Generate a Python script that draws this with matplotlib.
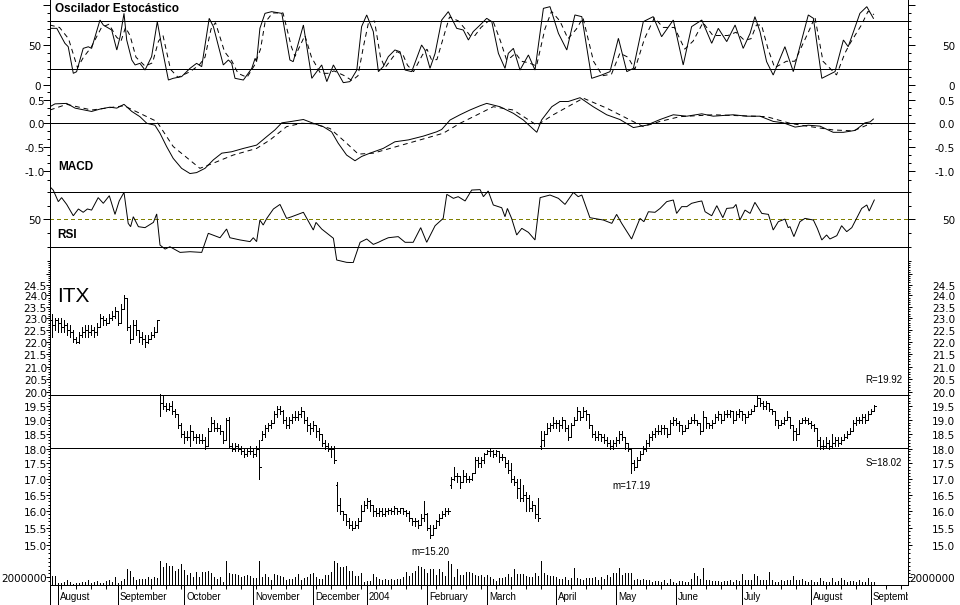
import numpy as np
import matplotlib
matplotlib.use('Agg')
import matplotlib.pyplot as plt
from matplotlib.lines import Line2D
from matplotlib.ticker import FixedLocator, NullFormatter
from matplotlib.transforms import blended_transform_factory, offset_copy, Bbox, TransformedBbox

plt.rcParams['lines.antialiased'] = False
plt.rcParams['patch.antialiased'] = False
plt.rcParams['font.family'] = 'DejaVu Sans'

# ---------------- data (ITX, daily, Jul 2003 - Sep 2004) ----------------
month_names = ['August', 'September', 'October', 'November', 'December', '2004', 'February',
               'March', 'April', 'May', 'June', 'July', 'August', 'September']
# trading days per month (first entry = last days of July 2003)
month_days = [2, 20, 22, 23, 20, 18, 20, 20, 23, 20, 20, 22, 23, 20, 2]

opens = [
    22.9, 22.7, 22.9, 22.8, 22.6, 22.7, 22.5, 22.4, 22.1, 22.0,
    22.3, 22.4, 22.5, 22.4, 22.5, 22.4, 22.6, 23.0, 22.9, 22.8,
    23.0, 23.1, 23.3, 22.8, 23.4, 23.9, 22.6, 22.1, 22.7, 22.5,
    22.2, 22.1, 22.0, 22.1, 22.3, 22.4, 19.9, 19.6, 19.5, 19.4,
    19.5, 19.3, 19.2, 18.8, 18.5, 18.4, 18.4, 18.6, 18.4, 18.4,
    18.3, 18.3, 18.1, 18.6, 18.9, 18.7, 18.7, 18.6, 18.3, 19.0,
    18.1, 18.0, 18.1, 18.0, 17.9, 17.8, 17.9, 17.9, 17.8, 18.0,
    18.3, 18.5, 18.7, 18.8, 18.9, 19.2, 19.4, 19.3, 19.0, 18.8,
    19.0, 19.1, 19.1, 19.2, 19.3, 19.0, 18.8, 18.7, 18.8, 18.6,
    18.5, 18.2, 18.1, 18.0, 18.0, 16.8, 16.2, 16.0, 15.9, 15.7,
    15.6, 15.5, 15.6, 15.7, 16.0, 16.2, 16.3, 16.2, 16.0, 15.95,
    16.0, 15.9, 16.0, 16.05, 16.0, 16.1, 16.0, 16.1, 16.0, 15.95,
    15.8, 15.7, 15.7, 15.6, 15.8, 15.9, 15.5, 15.3, 15.5, 15.7,
    15.8, 15.9, 16.0, 16.8, 17.0, 17.1, 17.1, 16.9, 17.1, 17.0,
    17.0, 17.2, 17.6, 17.5, 17.6, 17.8, 17.9, 17.9, 17.8, 17.9,
    17.7, 17.7, 17.5, 17.3, 17.0, 16.9, 16.7, 16.4, 16.5, 16.4,
    16.1, 16.2, 15.9, 18.1, 18.3, 18.5, 18.7, 18.8, 18.9, 18.9,
    18.8, 19.0, 18.7, 18.4, 18.8, 19.0, 19.3, 19.1, 19.3, 19.2,
    18.8, 18.5, 18.4, 18.5, 18.4, 18.3, 18.2, 18.1, 18.2, 18.3,
    18.5, 18.4, 18.2, 18.0, 17.5, 17.4, 17.6, 17.8, 18.0, 18.2,
    18.4, 18.5, 18.6, 18.6, 18.7, 18.7, 18.5, 18.9, 19.0, 18.9,
    18.8, 18.6, 18.7, 18.9, 19.0, 19.0, 18.9, 18.6, 19.1, 18.9,
    18.8, 18.9, 19.1, 19.2, 19.0, 19.2, 19.2, 19.3, 19.0, 19.2,
    19.3, 19.2, 19.1, 19.2, 19.3, 19.5, 19.8, 19.6, 19.5, 19.6,
    19.4, 19.3, 19.0, 18.8, 18.9, 19.0, 19.1, 18.8, 18.6, 18.5,
    18.9, 19.0, 19.0, 18.9, 18.8, 18.7, 18.3, 18.1, 18.1, 18.2,
    18.1, 18.2, 18.3, 18.2, 18.3, 18.4, 18.5, 18.6, 18.9, 19.0,
    19.0, 19.1, 19.0, 19.2, 19.3]

highs = [
    23.2, 23.0, 23.0, 23.0, 22.9, 22.8, 22.7, 22.5, 22.2, 22.4,
    22.6, 22.7, 22.7, 22.7, 22.6, 22.8, 23.2, 23.1, 23.0, 23.2,
    23.3, 23.5, 23.3, 23.6, 24.0, 23.9, 22.7, 22.9, 22.9, 22.5,
    22.4, 22.3, 22.3, 22.4, 22.6, 22.9, 19.95, 19.9, 19.6, 19.6,
    19.7, 19.4, 19.2, 18.9, 18.6, 18.6, 18.8, 18.6, 18.5, 18.5,
    18.5, 18.4, 18.7, 19.1, 19.0, 18.9, 18.8, 18.6, 19.05, 19.1,
    18.2, 18.2, 18.15, 18.1, 18.0, 18.0, 18.1, 18.0, 18.1, 18.3,
    18.6, 18.8, 18.9, 19.0, 19.3, 19.5, 19.5, 19.35, 19.1, 19.1,
    19.2, 19.3, 19.3, 19.45, 19.3, 19.1, 18.9, 18.95, 18.8, 18.7,
    18.5, 18.3, 18.2, 18.1, 18.1, 16.9, 16.4, 16.0, 15.9, 15.8,
    15.7, 15.7, 15.8, 16.2, 16.3, 16.4, 16.35, 16.2, 16.1, 16.1,
    16.1, 16.1, 16.1, 16.1, 16.15, 16.1, 16.1, 16.1, 16.05, 16.0,
    15.8, 15.8, 15.75, 15.9, 16.3, 15.95, 15.6, 15.6, 15.75, 15.9,
    16.0, 16.1, 16.1, 17.05, 17.4, 17.2, 17.1, 17.3, 17.2, 17.1,
    17.2, 17.7, 17.7, 17.7, 17.85, 17.95, 18.0, 17.95, 17.95, 17.9,
    17.8, 17.7, 17.6, 17.5, 17.1, 17.0, 17.0, 16.8, 16.6, 16.5,
    16.3, 16.2, 16.4, 18.6, 18.6, 18.9, 18.9, 19.1, 19.0, 19.0,
    19.1, 19.0, 18.8, 18.9, 19.1, 19.45, 19.3, 19.45, 19.35, 19.2,
    18.8, 18.6, 18.6, 18.5, 18.5, 18.4, 18.3, 18.3, 18.4, 18.6,
    18.6, 18.4, 18.2, 18.0, 17.6, 17.7, 17.9, 18.1, 18.3, 18.5,
    18.6, 18.7, 18.8, 18.8, 18.8, 18.7, 19.0, 19.1, 19.05, 18.95,
    18.8, 18.8, 19.0, 19.1, 19.2, 19.0, 18.9, 19.3, 19.1, 18.9,
    19.0, 19.2, 19.3, 19.2, 19.3, 19.35, 19.35, 19.3, 19.3, 19.4,
    19.3, 19.2, 19.3, 19.4, 19.55, 19.92, 19.8, 19.7, 19.7, 19.6,
    19.4, 19.3, 19.0, 19.0, 19.1, 19.3, 19.1, 18.8, 18.7, 19.0,
    19.05, 19.1, 19.05, 18.95, 18.85, 18.7, 18.4, 18.3, 18.4, 18.3,
    18.5, 18.4, 18.4, 18.4, 18.5, 18.6, 18.7, 19.0, 19.1, 19.1,
    19.2, 19.2, 19.3, 19.4, 19.55]

lows = [
    22.2, 22.5, 22.4, 22.4, 22.4, 22.3, 22.2, 22.0, 21.95, 21.95,
    22.2, 22.2, 22.2, 22.3, 22.2, 22.3, 22.6, 22.7, 22.7, 22.8,
    22.9, 23.0, 22.7, 22.8, 23.4, 22.5, 21.95, 22.1, 22.3, 22.0,
    21.9, 21.8, 21.95, 22.1, 22.2, 22.4, 19.15, 19.4, 19.3, 19.35,
    19.2, 19.1, 18.7, 18.4, 18.2, 18.3, 18.1, 18.3, 18.2, 18.2,
    18.2, 18.0, 18.1, 18.6, 18.6, 18.6, 18.5, 18.2, 18.3, 18.05,
    17.9, 17.9, 17.9, 17.8, 17.7, 17.75, 17.8, 17.7, 17.75, 17.0,
    18.3, 18.4, 18.6, 18.7, 18.9, 19.1, 19.2, 18.9, 18.7, 18.7,
    18.9, 19.0, 19.0, 19.1, 18.9, 18.6, 18.5, 18.6, 18.4, 18.3,
    18.1, 18.0, 17.9, 17.7, 17.5, 16.0, 15.9, 15.75, 15.6, 15.5,
    15.45, 15.5, 15.5, 15.7, 16.0, 16.1, 16.0, 15.85, 15.85, 15.85,
    15.85, 15.85, 15.9, 15.9, 15.9, 15.9, 15.95, 15.9, 15.85, 15.7,
    15.6, 15.55, 15.5, 15.6, 15.7, 15.45, 15.2, 15.3, 15.5, 15.6,
    15.8, 15.85, 15.9, 16.7, 16.95, 16.9, 16.7, 16.9, 16.9, 16.9,
    16.95, 17.2, 17.4, 17.4, 17.5, 17.8, 17.75, 17.7, 17.75, 17.55,
    17.6, 17.4, 17.2, 16.9, 16.8, 16.4, 16.3, 16.3, 16.0, 16.0,
    16.0, 15.8, 15.7, 18.0, 18.1, 18.5, 18.6, 18.7, 18.7, 18.6,
    18.7, 18.6, 18.3, 18.4, 18.8, 19.0, 19.0, 19.1, 19.0, 18.7,
    18.4, 18.3, 18.3, 18.25, 18.2, 18.1, 18.0, 18.0, 18.1, 18.2,
    18.3, 18.0, 17.9, 17.19, 17.3, 17.4, 17.6, 17.8, 17.9, 18.1,
    18.3, 18.4, 18.5, 18.5, 18.5, 18.4, 18.5, 18.8, 18.8, 18.6,
    18.5, 18.6, 18.7, 18.9, 18.9, 18.8, 18.5, 18.6, 18.7, 18.7,
    18.7, 18.9, 19.0, 18.9, 19.0, 19.1, 19.1, 18.9, 19.0, 19.1,
    19.0, 18.9, 19.1, 19.2, 19.3, 19.5, 19.5, 19.4, 19.4, 19.3,
    19.2, 18.8, 18.7, 18.8, 18.85, 19.0, 18.7, 18.3, 18.3, 18.5,
    18.9, 18.9, 18.85, 18.7, 18.6, 18.1, 18.0, 18.0, 18.05, 18.0,
    18.05, 18.1, 18.1, 18.15, 18.3, 18.35, 18.5, 18.6, 18.8, 18.9,
    18.9, 18.9, 19.0, 19.2, 19.3]

closes = [
    22.7, 22.9, 22.8, 22.6, 22.7, 22.5, 22.4, 22.1, 22.0, 22.3,
    22.4, 22.5, 22.4, 22.5, 22.4, 22.6, 23.0, 22.9, 22.8, 23.0,
    23.1, 23.3, 22.8, 23.4, 23.9, 22.6, 22.1, 22.7, 22.5, 22.2,
    22.1, 22.0, 22.1, 22.3, 22.4, 22.9, 19.6, 19.5, 19.4, 19.5,
    19.3, 19.2, 18.8, 18.5, 18.4, 18.4, 18.6, 18.4, 18.4, 18.3,
    18.3, 18.1, 18.6, 18.9, 18.7, 18.7, 18.6, 18.3, 19.0, 18.1,
    18.0, 18.1, 18.0, 17.9, 17.8, 17.9, 17.9, 17.8, 18.0, 17.4,
    18.5, 18.7, 18.8, 18.9, 19.2, 19.4, 19.3, 19.0, 18.8, 19.0,
    19.1, 19.1, 19.2, 19.3, 19.0, 18.8, 18.7, 18.8, 18.6, 18.5,
    18.2, 18.1, 18.0, 18.0, 17.6, 16.2, 16.0, 15.9, 15.7, 15.6,
    15.5, 15.6, 15.7, 16.0, 16.2, 16.3, 16.2, 16.0, 15.95, 16.0,
    15.9, 16.0, 16.05, 16.0, 16.1, 16.0, 16.1, 16.0, 15.95, 15.8,
    15.7, 15.7, 15.6, 15.8, 15.9, 15.5, 15.3, 15.5, 15.7, 15.8,
    15.9, 16.0, 16.0, 17.0, 17.1, 17.1, 16.9, 17.1, 17.0, 17.0,
    17.2, 17.6, 17.5, 17.6, 17.8, 17.9, 17.9, 17.8, 17.9, 17.7,
    17.7, 17.5, 17.3, 17.0, 16.9, 16.7, 16.4, 16.5, 16.4, 16.1,
    16.2, 15.9, 15.8, 18.3, 18.5, 18.7, 18.8, 18.9, 18.9, 18.8,
    19.0, 18.7, 18.4, 18.8, 19.0, 19.3, 19.1, 19.3, 19.2, 18.8,
    18.5, 18.4, 18.5, 18.4, 18.3, 18.2, 18.1, 18.2, 18.3, 18.5,
    18.4, 18.2, 18.0, 17.5, 17.4, 17.6, 17.8, 18.0, 18.2, 18.4,
    18.5, 18.6, 18.6, 18.7, 18.7, 18.5, 18.9, 19.0, 18.9, 18.8,
    18.6, 18.7, 18.9, 19.0, 19.0, 18.9, 18.6, 19.1, 18.9, 18.8,
    18.9, 19.1, 19.2, 19.0, 19.2, 19.2, 19.3, 19.0, 19.2, 19.3,
    19.2, 19.1, 19.2, 19.3, 19.5, 19.8, 19.6, 19.5, 19.6, 19.4,
    19.3, 19.0, 18.8, 18.9, 19.0, 19.1, 18.8, 18.6, 18.5, 18.9,
    19.0, 19.0, 18.9, 18.8, 18.7, 18.3, 18.1, 18.1, 18.2, 18.1,
    18.2, 18.3, 18.2, 18.3, 18.4, 18.5, 18.6, 18.9, 19.0, 19.0,
    19.1, 19.0, 19.2, 19.3, 19.5]

# volume in millions of shares
volume_m = [
    2.3, 2.3, 0.5, 0.5, 0.8, 1.3, 0.8, 0.3, 0.5, 0.5,
    0.8, 0.8, 1.3, 0.5, 0.8, 1.0, 0.5, 0.5, 1.0, 1.3,
    0.8, 2.1, 0.5, 1.0, 1.6, 4.2, 3.6, 2.1, 1.3, 1.6,
    1.6, 1.6, 2.1, 1.6, 2.1, 1.8, 6.2, 4.7, 5.7, 4.9,
    4.9, 3.6, 4.2, 5.5, 3.9, 2.6, 3.1, 2.1, 3.4, 2.1,
    3.4, 3.4, 3.6, 3.1, 2.1, 1.6, 2.1, 0.8, 6.2, 3.1,
    2.9, 2.9, 2.6, 2.1, 2.3, 2.6, 2.3, 1.8, 1.8, 6.2,
    2.1, 2.9, 2.1, 1.3, 2.9, 2.6, 2.3, 2.1, 1.3, 1.6,
    1.6, 2.1, 2.9, 1.3, 1.8, 2.1, 2.9, 3.1, 2.1, 1.6,
    1.6, 2.6, 2.6, 3.4, 6.2, 5.7, 4.7, 4.7, 4.9, 3.6,
    3.6, 2.3, 2.3, 3.1, 0.8, 1.0, 1.0, 2.9, 2.1, 1.6,
    1.3, 1.6, 1.3, 1.6, 1.3, 1.6, 1.6, 2.1, 3.4, 2.3,
    3.1, 3.6, 4.9, 4.7, 4.2, 3.1, 4.2, 4.2, 2.6, 4.2,
    3.4, 2.3, 6.2, 5.5, 2.1, 4.2, 2.6, 2.6, 3.4, 3.4,
    3.1, 2.6, 2.3, 2.6, 2.1, 2.6, 2.1, 1.6, 1.0, 1.8,
    1.8, 2.1, 2.9, 2.1, 4.2, 2.9, 2.9, 2.9, 2.3, 2.1,
    2.1, 3.1, 2.3, 6.2, 3.1, 2.6, 2.3, 2.3, 2.1, 1.6,
    1.6, 2.1, 1.3, 1.8, 4.4, 1.8, 1.6, 1.3, 1.8, 1.8,
    1.8, 2.1, 1.3, 2.1, 1.6, 2.6, 2.1, 3.1, 3.1, 4.4,
    2.6, 3.1, 3.1, 3.1, 1.3, 1.6, 1.3, 1.6, 1.3, 1.3,
    0.8, 1.0, 1.0, 0.8, 1.3, 0.5, 1.6, 0.8, 0.5, 1.0,
    1.0, 0.8, 0.8, 1.6, 3.1, 2.3, 1.6, 4.4, 1.3, 1.3,
    1.0, 1.0, 1.0, 0.8, 1.0, 1.0, 1.3, 0.8, 1.3, 1.0,
    2.9, 1.3, 1.3, 1.3, 2.9, 2.3, 1.3, 1.3, 1.3, 3.4,
    1.3, 0.8, 0.8, 1.3, 1.0, 1.3, 1.3, 2.3, 1.3, 1.3,
    1.6, 1.0, 0.8, 1.3, 0.8, 0.8, 1.8, 1.0, 0.8, 0.8,
    1.8, 0.8, 1.0, 1.8, 1.3, 0.8, 1.0, 1.0, 0.8, 1.3,
    0.8, 0.8, 1.8, 0.8, 0.8]

# indicator lines as (bar index, value) vertices
stoch_k = [
    (-0.7, 70.9), (1.6, 70.9), (4.3, 52.3), (5.4, 48.1), (7.1, 15), (8.2, 17), (10.4, 46),
    (12.1, 48), (13.2, 46), (16, 81.2), (17.1, 75), (19.9, 68.8), (21.6, 44), (22.7, 60.5),
    (24, 89.5), (24.9, 56.4), (26.6, 31.6), (27.7, 25.4), (29.3, 27.4), (31, 19.1),
    (33.2, 35.7), (35.1, 79.2), (36.6, 48.1), (38.8, 6.7), (40.4, 8.8), (43.2, 10.9),
    (46, 21.2), (48.2, 27.4), (49.9, 23.3), (52.4, 83.3), (53.8, 73), (57.1, 25.4),
    (58.8, 31.6), (59.9, 27.4), (61, 8.8), (63.8, 6.7), (66.6, 21.2), (67.7, 33.6),
    (68.2, 29.5), (69.3, 70.9), (71, 89.5), (73.2, 91.6), (76.6, 89.5), (79.3, 31.6),
    (80.4, 29.5), (83.8, 75), (86.6, 8.8), (89.9, 25.4), (91.6, 4.7), (93.8, 25.4),
    (97.1, 3.4), (99.3, 4.7), (101.6, 19.1), (103.2, 73), (104.9, 87.5), (107.1, 66.8),
    (108.8, 17.1), (110.4, 23.3), (112.1, 35.7), (114.3, 44), (116, 41.9), (117.7, 19.1),
    (119.9, 17.1), (123.2, 50.2), (124.3, 44), (126, 21.2), (127.7, 39.8), (129.9, 81.2),
    (132.1, 91.6), (134.9, 70.9), (137.1, 68.8), (138.8, 56.4), (140.4, 66.8), (142.7, 75),
    (144.9, 83.3), (146.6, 79.2), (148.8, 39.8), (151, 21.2), (152.1, 39.8), (153.8, 46),
    (156, 19.1), (158.8, 37.8), (161, 19.1), (163.8, 95.7), (166, 97.8), (168.8, 64.7),
    (171.6, 44), (174.3, 87.5), (176.6, 85.4), (179.9, 8.8), (183.2, 12.9), (186, 17.1),
    (188.8, 58.5), (191.6, 17.1), (193.8, 21.2), (197.1, 79.2), (200.4, 85.4), (203.2, 60.5),
    (207.1, 81.2), (210.4, 25.4), (213.2, 73), (216.6, 81.2), (219.9, 52.3), (222.1, 70.9),
    (224.9, 54.4), (227.7, 75), (230.4, 46), (232.7, 64.7), (234.3, 85.4), (236, 66.8),
    (238.2, 29.5), (240.4, 12.9), (244.3, 48.1), (247.1, 17.1), (252.1, 87.5), (253.8, 83.3),
    (256.6, 8.8), (261, 17.1), (263.8, 56.4), (265.4, 48.1), (269.3, 89.5), (271.6, 97.8),
    (273.8, 83.3)]

stoch_d = [
    (-0.7, 75), (2.5, 72), (5.5, 58), (8.5, 22), (10.5, 35), (13, 47), (16.5, 72), (19, 76),
    (21.5, 60), (23, 55), (24.5, 72), (26, 62), (28, 35), (31, 24), (33.5, 28), (35.5, 55),
    (37, 62), (39.5, 20), (42, 10), (46, 17), (49, 25), (51, 35), (53, 70), (54.5, 78),
    (57.5, 42), (60, 30), (62, 15), (65, 10), (67.5, 25), (69.5, 45), (71, 78), (73.5, 90),
    (77, 90), (79.8, 48), (81, 36), (84.3, 62), (86.5, 35), (89.5, 15), (92, 15), (94, 18),
    (97.5, 12), (100, 6), (102, 12), (103.8, 48), (105.5, 78), (107.5, 80), (109.5, 35),
    (111, 22), (113, 32), (115, 42), (117, 38), (118.5, 25), (120.5, 17), (123.5, 38),
    (125, 45), (126.5, 32), (128.3, 32), (130.5, 60), (132.5, 85), (135.5, 80), (137.5, 71),
    (139.3, 62), (141, 62), (143, 72), (145.5, 80), (147, 80), (149.5, 55), (151.5, 32),
    (153, 35), (154.5, 40), (156.5, 30), (159, 28), (161.5, 24), (164.3, 70), (166.5, 92),
    (169.3, 80), (172, 58), (174.8, 70), (177, 84), (180.5, 30), (183.5, 12), (186.5, 14),
    (189.3, 40), (192, 35), (194.3, 20), (197.5, 58), (200.8, 84), (203.7, 72), (207.5, 72),
    (210.9, 45), (213.7, 55), (217, 78), (220.3, 62), (222.5, 62), (225.3, 62), (228, 66),
    (230.8, 56), (233, 58), (234.8, 75), (236.5, 75), (238.7, 45), (240.9, 22), (244.8, 30),
    (247.6, 30), (252.6, 70), (254.3, 85), (257, 30), (261.5, 13), (264.3, 40), (266, 52),
    (269.8, 75), (272, 92), (274, 88)]

macd = [
    (-0.7, 0.35), (1, 0.41), (4.9, 0.42), (7.7, 0.32), (13.2, 0.25), (16, 0.30), (19.3, 0.34),
    (21.6, 0.32), (24, 0.40), (26.6, 0.25), (29.3, 0.14), (31.6, 0.0), (34.3, -0.04),
    (36, -0.21), (38.2, -0.49), (40.4, -0.74), (43.2, -0.95), (46, -1.06), (48.2, -1.04),
    (51, -0.95), (53.8, -0.77), (56.6, -0.63), (59.9, -0.6), (63.8, -0.53), (68.2, -0.46),
    (71.6, -0.28), (74.3, -0.14), (76.6, 0.01), (79.9, 0.04), (83.8, 0.08), (87.1, 0.0),
    (90.4, -0.07), (93.2, -0.18), (95.4, -0.42), (98.2, -0.67), (101, -0.79), (103.2, -0.70),
    (106, -0.63), (110.4, -0.53), (114.3, -0.39), (118.8, -0.35), (123.8, -0.27),
    (128.2, -0.18), (129.9, -0.13), (132.7, 0.07), (136, 0.18), (139.3, 0.28), (142.7, 0.37),
    (144.9, 0.42), (149.3, 0.35), (153.8, 0.21), (157.1, 0.07), (161.6, -0.19), (163.2, 0.07),
    (166.6, 0.35), (169.3, 0.46), (172.1, 0.46), (176, 0.54), (180.4, 0.35), (184.9, 0.18),
    (189.3, 0.08), (193.8, -0.09), (198.2, -0.04), (202.7, 0.08), (207.1, 0.18), (211.6, 0.15),
    (216.6, 0.20), (220.4, 0.15), (227.1, 0.18), (231.6, 0.15), (236, 0.15), (240.4, 0.04),
    (243.8, 0.01), (247.7, -0.08), (252.1, -0.04), (256, -0.06), (260.4, -0.19),
    (263.8, -0.19), (267.7, -0.15), (271, 0.01), (272.7, 0.03), (273.8, 0.09)]

macd_signal = [
    (-0.7, 0.28), (4.9, 0.40), (13.2, 0.28), (20.4, 0.34), (24, 0.37), (29.3, 0.21),
    (34.9, 0.04), (40.4, -0.49), (49.3, -0.95), (53.8, -0.84), (60.4, -0.67), (68.2, -0.53),
    (72.7, -0.35), (78.2, -0.07), (83.2, 0.0), (87.1, -0.01), (92.7, -0.11), (98.2, -0.42),
    (102.1, -0.65), (107.1, -0.63), (114.9, -0.49), (122.7, -0.35), (130.4, -0.21),
    (136, 0.0), (142.7, 0.21), (147.1, 0.35), (153.8, 0.28), (161.6, -0.04), (167.1, 0.18),
    (177.1, 0.53), (184.9, 0.32), (192.7, 0.07), (197.1, -0.07), (202.7, 0.04), (209.3, 0.14),
    (220.4, 0.18), (238.2, 0.14), (246, 0.0), (251.6, -0.06), (260.4, -0.14), (267.1, -0.16),
    (271.6, -0.04), (273.8, 0.0)]

rsi = [
    (-0.7, 73.6), (0.4, 71.2), (2.1, 62.8), (3.2, 65.7), (4.9, 60.8), (7.1, 52.6), (8.8, 57.5),
    (10.4, 55.1), (11.8, 57.5), (13.2, 56.7), (15.4, 65.7), (17.1, 61.6), (19.1, 67.1),
    (21, 53.6), (22.4, 63.3), (24, 69.5), (25.4, 47.1), (26.2, 44.7), (27.1, 51.9),
    (28.8, 44.7), (31, 44.0), (33.8, 47.8), (34.9, 53.9), (36, 31.4), (37.7, 28.5),
    (39.3, 30.2), (42.7, 26.1), (46, 26.6), (49.9, 26.1), (52.1, 39.9), (56, 36.7),
    (58.2, 43.0), (59.3, 36.7), (62.7, 35.1), (66, 33.9), (67.1, 36.7), (68.2, 33.9),
    (69.3, 49.5), (70.4, 45.9), (71.6, 50.7), (73.8, 57.5), (76, 60.8), (78.2, 50.7),
    (79.9, 51.9), (83.8, 55.1), (87.1, 42.3), (88, 47.8), (89.9, 43.0), (92.1, 39.2),
    (93.8, 36.3), (94.9, 20.6), (98.2, 18.9), (100.4, 18.7), (102.7, 33.4), (104.9, 35.8),
    (107.1, 31.9), (108.8, 33.4), (110.4, 35.1), (112.1, 36.7), (115.4, 37.5), (117.7, 33.4),
    (120.4, 33.4), (122.9, 44.0), (124.9, 33.4), (127.7, 45.4), (130.4, 50.7), (131.6, 68.1),
    (133.8, 65.2), (135.4, 66.4), (137.7, 63.3), (139.9, 71.2), (142.7, 71.5), (143.8, 66.4),
    (145.4, 70.5), (147.1, 60.4), (149.9, 58.4), (151, 51.9), (151.8, 57.9), (153.2, 50.7),
    (154.9, 38.7), (156.6, 43.5), (158.8, 40.6), (161, 35.1), (162.7, 65.7), (166, 67.6),
    (168.8, 65.2), (171, 60.8), (173.8, 69.5), (175.4, 66.4), (176.6, 67.6), (179.3, 51.2),
    (183.8, 49.5), (186.6, 47.1), (188.2, 53.6), (189.9, 47.1), (193.2, 35.8), (196, 50.7),
    (197.3, 48.3), (198.8, 55.5), (201, 55.1), (202.7, 57.9), (204.9, 62.8), (207.1, 64.0),
    (208.2, 54.3), (209.9, 59.2), (211.6, 59.2), (213.2, 61.6), (215.4, 62.8), (216.6, 63.3),
    (217.7, 55.5), (219.9, 52.6), (221.6, 59.9), (223.6, 51.2), (224.9, 57.9), (227.1, 58.4),
    (228, 60.8), (229.3, 49.5), (231, 56.7), (232.7, 54.3), (234.3, 62.3), (236.6, 54.3),
    (238.8, 53.6), (240.4, 42.3), (242.1, 48.3), (244.3, 50.2), (245.4, 44.0), (246, 44.7),
    (247.3, 37.5), (249.3, 48.3), (251, 50.7), (253.8, 49.5), (255.1, 43.5), (256.6, 35.1),
    (258.2, 38.7), (259.3, 35.8), (261.6, 38.2), (263.2, 45.4), (264.9, 41.1), (266.6, 44.0),
    (268.2, 50.7), (269.9, 57.9), (271.6, 60.4), (272.4, 56.0), (274.1, 64.0)]

resistance = 19.92
support = 18.02
lows_marked = [(126, 15.20), (193, 17.19)]

# ---------------- layout ----------------
W, H = 960, 605
LEFT, RIGHT = 50, 908
fig = plt.figure(figsize=(W / 100, H / 100), dpi=100)
LW = 0.72
LW_IND = 0.7
NUM = dict(fontsize=7.5, family='DejaVu Sans')

idx = np.arange(len(closes))
xmin, xmax = -2 / 3, (RIGHT - 52) / 3


def panel(top, bottom):
    ax = fig.add_axes([LEFT / W, 1 - bottom / H, (RIGHT - LEFT) / W, (bottom - top) / H])
    ax.set_xlim(xmin, xmax)
    for s in ('top', 'bottom'):
        ax.spines[s].set_visible(False)
    for s in ('left', 'right'):
        ax.spines[s].set_linewidth(LW)
    ax.tick_params(axis='x', which='both', bottom=False, labelbottom=False)
    ax.tick_params(axis='y', which='both', left=True, right=True, direction='out',
                   width=LW, labelleft=False, labelright=False)
    ax.yaxis.set_minor_formatter(NullFormatter())
    ax.patch.set_alpha(0)
    return ax


def yticks(ax, major, minor, major_len, minor_len):
    ax.yaxis.set_major_locator(FixedLocator(major))
    ax.yaxis.set_minor_locator(FixedLocator(minor))
    ax.yaxis.set_major_formatter(NullFormatter())
    ax.tick_params(axis='y', which='major', length=major_len * 0.72)
    ax.tick_params(axis='y', which='minor', length=minor_len * 0.72)


def ylabels(ax, values, texts, left_gap):
    tr = offset_copy(blended_transform_factory(ax.transAxes, ax.transData), fig=fig, y=-2, units='dots')
    for v, t in zip(values, texts):
        ax.text(-left_gap / (RIGHT - LEFT), v, t, transform=tr, ha='right', va='center', **NUM)
        ax.text(1 + 47 / (RIGHT - LEFT), v, t, transform=tr, ha='right', va='center', **NUM)


def line(ax, pts, dashed=False, color='black'):
    xs, ys = zip(*pts)
    ax.plot(xs, ys, color=color, lw=LW_IND, linestyle=(0, (5, 4)) if dashed else '-',
            antialiased=True, solid_joinstyle='miter', dash_joinstyle='miter')


# ---- stochastic ----
ax_s = panel(0, 91)
ax_s.set_ylim((85.4 - 91) / 0.805, 85.4 / 0.805)
yticks(ax_s, [0, 50, 100], [10, 20, 30, 40, 60, 70, 80, 90], 7, 3)
ylabels(ax_s, [50], ['50'], 9)
# the "0" label is cut off by the MACD panel below it
tr0 = offset_copy(blended_transform_factory(ax_s.transAxes, ax_s.transData), fig=fig, y=-2, units='dots')
clip0 = TransformedBbox(Bbox([[0, 1 - 89.5 / H], [1, 1]]), fig.transFigure)
for xa in (-9 / (RIGHT - LEFT), 1 + 47 / (RIGHT - LEFT)):
    t0 = ax_s.text(xa, 0, '0', transform=tr0, ha='right', va='center', **NUM)
    t0.set_clip_path(None)
    t0.set_clip_box(clip0)
    t0.set_clip_on(True)
ax_s.axhline(80, color='black', lw=LW)
ax_s.axhline(20, color='black', lw=LW)
line(ax_s, stoch_d, dashed=True)
line(ax_s, stoch_k)
ax_s.text(5 / (RIGHT - LEFT), 1 - 12 / 91, 'Oscilador Estocástico', transform=ax_s.transAxes,
          fontsize=8.5, fontweight='bold', family='Liberation Sans', va='baseline')

# ---- MACD ----
ax_m = panel(91, 185)
ax_m.set_ylim((123.3 - 185) / 47.4, (123.3 - 91) / 47.4)
yticks(ax_m, [-1.0, -0.5, 0.0, 0.5], [-1.2, -0.8333, -0.6667, -0.3333, -0.1667, 0.1667, 0.3333, 0.6667], 7, 3)
ylabels(ax_m, [-1.0, -0.5, 0.0, 0.5], ['-1.0', '-0.5', '0.0', '0.5'], 5)
ax_m.axhline(0, color='black', lw=LW)
line(ax_m, macd_signal, dashed=True)
line(ax_m, macd)
ax_m.text(8 / (RIGHT - LEFT), 1 - (170 - 91) / 94, 'MACD', transform=ax_m.transAxes,
          fontsize=8.5, fontweight='bold', family='Liberation Sans', va='baseline')

# ---- RSI ----
ax_r = panel(185, 263)
ax_r.set_ylim(30 - (263 - 247) / 1.383, 70 + (191.7 - 185) / 1.383)
yticks(ax_r, [50], [20, 30, 40, 60, 70], 7, 3)
ylabels(ax_r, [50], ['50'], 9)
ax_r.axhline(70, color='black', lw=LW)
ax_r.axhline(30, color='black', lw=LW)
ax_r.axhline(50, color='#808000', lw=LW, linestyle=(0, (4, 3)))
line(ax_r, rsi)
ax_r.text(7 / (RIGHT - LEFT), 1 - (238 - 185) / 78, 'RSI', transform=ax_r.transAxes,
          fontsize=8.5, fontweight='bold', family='Liberation Sans', va='baseline')

# ---- price (log scale) ----
ax_p = panel(263, 555)
ax_p.set_yscale('log')
ax_p.set_ylim(np.exp((1985.9 - 555) / 531.9), np.exp((1985.9 - 263) / 531.9))
price_major = [15.0 + 0.5 * k for k in range(21)]
price_minor = [round(14.8 + 0.1 * k, 1) for k in range(108)]
yticks(ax_p, price_major, price_minor, 4, 2.5)
ax_p.yaxis.set_minor_formatter(NullFormatter())
lab = price_major[:-1]
ylabels(ax_p, lab, ['%.1f' % v for v in lab], 3)
ax_p.axhline(resistance, color='black', lw=LW)
ax_p.axhline(support, color='black', lw=LW)
ax_p.vlines(idx, lows, highs, color='black', lw=LW, antialiased=False)
ax_p.hlines(opens, idx - 0.5, idx, color='black', lw=LW, antialiased=False)
ax_p.hlines(closes, idx, idx + 0.5, color='black', lw=LW, antialiased=False)
ax_p.text(7.5 / (RIGHT - LEFT), 1 - (301.7 - 263) / 292, 'ITX', transform=ax_p.transAxes,
          fontsize=15, family='Liberation Sans', va='baseline')
SMALL = dict(fontsize=7, family='Liberation Sans', va='center')
ax_p.text(1 - 6 / (RIGHT - LEFT), 20.49, 'R=%.2f' % resistance,
          transform=blended_transform_factory(ax_p.transAxes, ax_p.transData), ha='right', **SMALL)
ax_p.text(1 - 6 / (RIGHT - LEFT), 17.53, 'S=%.2f' % support,
          transform=blended_transform_factory(ax_p.transAxes, ax_p.transData), ha='right', **SMALL)
for i, v in lows_marked:
    ax_p.text(i, v * 0.975, 'm=%.2f' % v, ha='center', **SMALL)

# ---- volume ----
ax_v = panel(555, 585)
ax_v.set_ylim(0, 7.8e6)
yticks(ax_v, [2e6], [1e6, 3e6, 4e6, 5e6, 6e6, 7e6], 4, 2.5)
ylabels(ax_v, [2e6], ['2000000'], 3)
ax_v.vlines(idx, 0, np.array(volume_m) * 1e6, color='black', lw=LW, antialiased=False)
ax_v.spines['bottom'].set_visible(True)
ax_v.spines['bottom'].set_linewidth(LW)

month_start = np.cumsum(month_days)[:-1]
ax_v.xaxis.set_major_locator(FixedLocator(month_start))
ax_v.xaxis.set_minor_locator(FixedLocator(np.arange(3, 286, 5)))
ax_v.xaxis.set_major_formatter(NullFormatter())
ax_v.tick_params(axis='x', which='major', bottom=True, direction='out', length=20 * 0.72, width=LW)
ax_v.tick_params(axis='x', which='minor', bottom=True, direction='out', length=4 * 0.72, width=LW)
ax_v.add_line(Line2D([0, 0], [0, -20 / 30], transform=ax_v.transAxes, color='black', lw=LW, clip_on=False))

clipm = TransformedBbox(Bbox([[LEFT / W, 0], [RIGHT / W, 20 / H]]), fig.transFigure)
trm = offset_copy(blended_transform_factory(ax_v.transData, ax_v.transAxes), fig=fig, x=2, units='dots')
for pos, name in zip(month_start, month_names):
    t = ax_v.text(pos, -12 / 30, name, transform=trm, ha='left', va='center',
                  fontsize=7, family='Liberation Sans')
    t.set_clip_path(None)
    t.set_clip_box(clipm)
    t.set_clip_on(True)

fig.savefig('out.png', dpi=100)
